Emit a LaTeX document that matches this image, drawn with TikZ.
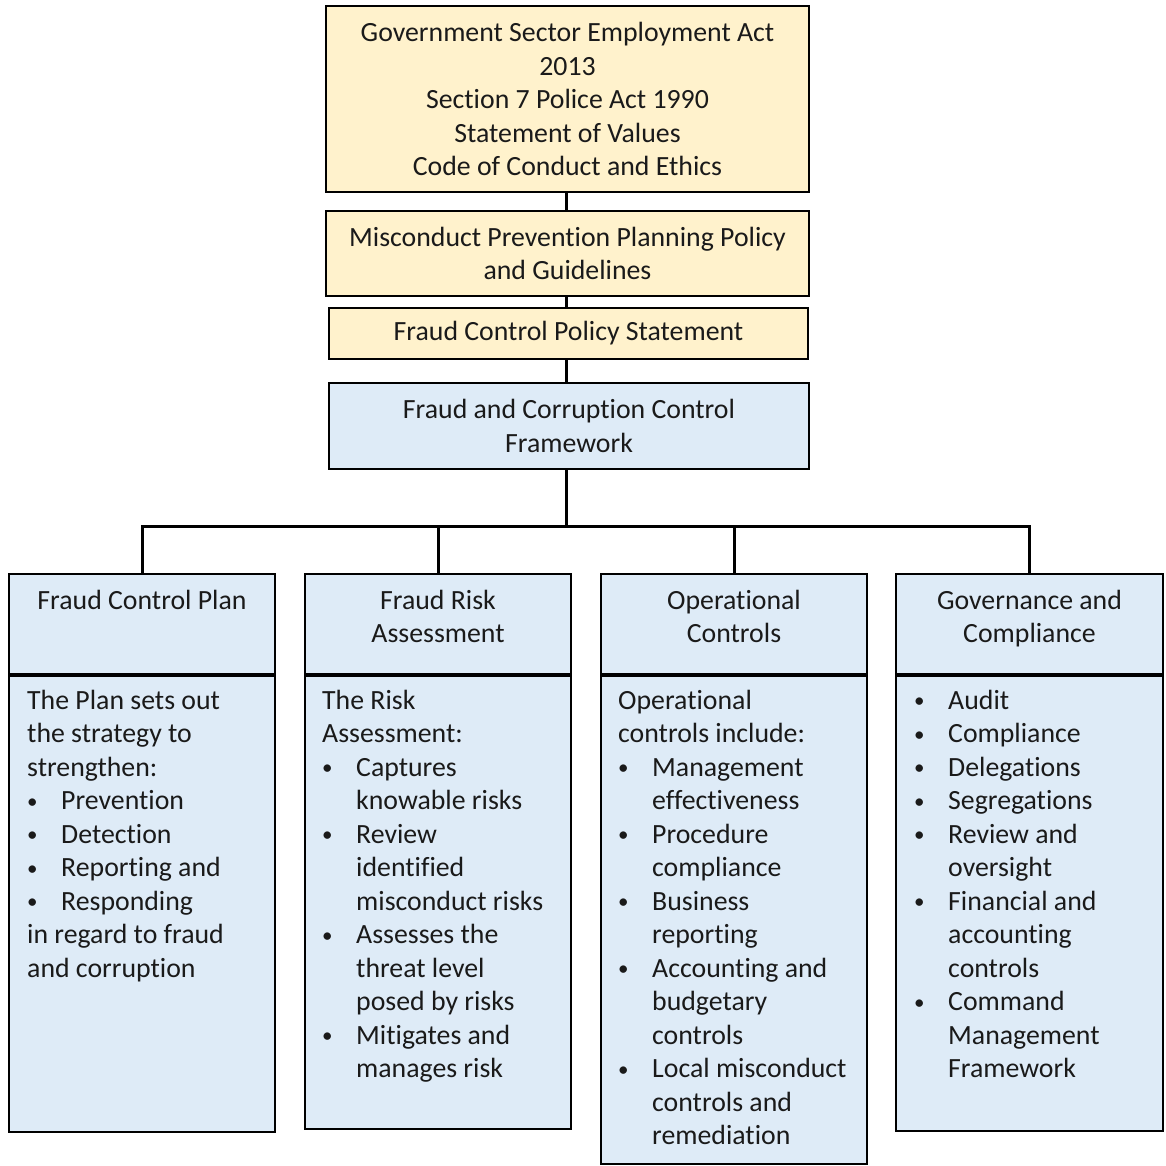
\documentclass[tikz,border=0pt]{standalone}
\usepackage{fontspec}
\setmainfont[Ligatures=NoCommon]{Carlito}
\definecolor{yfill}{HTML}{FFF2CC}
\definecolor{bfill}{HTML}{DEEBF7}
\definecolor{txt}{HTML}{1A1A1A}
\newcommand\bfont{\fontsize{27.8}{33.5}\selectfont}
\newcommand\bul[1]{\makebox[34pt][l]{\raisebox{1.5pt}{\fontsize{21}{21}\selectfont\textbullet}}#1}
\newcommand\ind{\hspace*{34pt}}
\tikzset{
  ybox/.style={draw=black, line width=2pt, fill=yfill, rectangle, anchor=north west, inner sep=0pt, align=center, font=\bfont, text=txt},
  bbox/.style={draw=black, line width=2pt, fill=bfill, rectangle, anchor=north west, inner sep=0pt, align=center, font=\bfont, text=txt},
  hdr/.style={anchor=base, inner sep=0pt, font=\bfont, text=txt},
  bodytxt/.style={anchor=base west, inner sep=0pt, font=\bfont, text=txt},
  conn/.style={draw=black, line width=3pt},
}
\begin{document}
\begin{tikzpicture}[x=1pt,y=-1pt]
\useasboundingbox (0,0) rectangle (1166,1165);
% top boxes
\node[ybox, minimum width=483pt, minimum height=186pt] (b1) at (325,5)
  {Government Sector Employment Act\\2013\\Section 7 Police Act 1990\\Statement of Values\\Code of Conduct and Ethics};
\node[ybox, minimum width=483pt, minimum height=85pt] (b2) at (325,210)
  {Misconduct Prevention Planning Policy\\and Guidelines};
\node[ybox, minimum width=479pt, minimum height=51pt] (b3) at (328,307)
  {Fraud Control Policy Statement};
\node[bbox, minimum width=480pt, minimum height=86pt] (b4) at (328,382)
  {Fraud and Corruption Control\\Framework};
\coordinate (cx) at (566,0);
\draw[conn] (b1.south -| cx) -- (b2.north -| cx);
\draw[conn] (b2.south -| cx) -- (b3.north -| cx);
\draw[conn] (b3.south -| cx) -- (b4.north -| cx);
% header boxes
\node[bbox, minimum width=266pt, minimum height=100pt] (h1) at (8,573) {};
\node[bbox, minimum width=266pt, minimum height=100pt] (h2) at (304,573) {};
\node[bbox, minimum width=266pt, minimum height=100pt] (h3) at (600,573) {};
\node[bbox, minimum width=267pt, minimum height=100pt] (h4) at (895,573) {};
% body boxes
\node[bbox, minimum width=266pt, minimum height=456pt] (d1) at (8,675) {};
\node[bbox, minimum width=266pt, minimum height=453pt] (d2) at (304,675) {};
\node[bbox, minimum width=266pt, minimum height=488pt] (d3) at (600,675) {};
\node[bbox, minimum width=267pt, minimum height=455pt] (d4) at (895,675) {};
% connectors
\coordinate (bus) at (0,526);
\draw[conn] (b4.south -| cx) -- (bus -| cx);
\draw[conn, line cap=rect] (h1.north) |- (bus -| h4.north) -- (h4.north);
\draw[conn] (h2.north) -- (h2.north |- bus);
\draw[conn] (h3.north) -- (h3.north |- bus);
% header texts
\node[hdr] (ht1) at (h1.north |- 0,609) {\parbox[t]{260pt}{\centering\bfont Fraud Control Plan}};
\node[hdr] (ht2) at (h2.north |- 0,609) {\parbox[t]{260pt}{\centering\bfont Fraud Risk\\Assessment}};
\node[hdr] (ht3) at (h3.north |- 0,609) {\parbox[t]{260pt}{\centering\bfont Operational\\Controls}};
\node[hdr] (ht4) at (h4.north |- 0,609) {\parbox[t]{260pt}{\centering\bfont Governance and\\Compliance}};
% body texts
\node[bodytxt] (t1) at (27,709) {\parbox[t]{245pt}{\raggedright\bfont
  The Plan sets out\\the strategy to\\strengthen:\\\bul{Prevention}\\\bul{Detection}\\\bul{Reporting and}\\\bul{Responding}\\in regard to fraud\\and corruption}};
\node[bodytxt] (t2) at (322,709) {\parbox[t]{245pt}{\raggedright\bfont
  The Risk\\Assessment:\\\bul{Captures}\\\ind knowable risks\\\bul{Review}\\\ind identified\\\ind misconduct risks\\\bul{Assesses the}\\\ind threat level\\\ind posed by risks\\\bul{Mitigates and}\\\ind manages risk}};
\node[bodytxt] (t3) at (618,709) {\parbox[t]{245pt}{\raggedright\bfont
  Operational\\controls include:\\\bul{Management}\\\ind effectiveness\\\bul{Procedure}\\\ind compliance\\\bul{Business}\\\ind reporting\\\bul{Accounting and}\\\ind budgetary\\\ind controls\\\bul{Local misconduct}\\\ind controls and\\\ind remediation}};
\node[bodytxt] (t4) at (914,709) {\parbox[t]{245pt}{\raggedright\bfont
  \bul{Audit}\\\bul{Compliance}\\\bul{Delegations}\\\bul{Segregations}\\\bul{Review and}\\\ind oversight\\\bul{Financial and}\\\ind accounting\\\ind controls\\\bul{Command}\\\ind Management\\\ind Framework}};
\end{tikzpicture}
\end{document}
